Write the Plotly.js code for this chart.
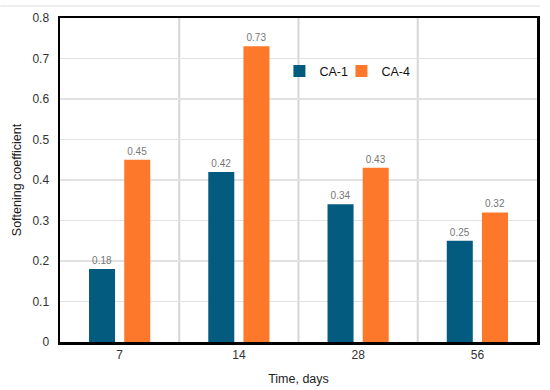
<!DOCTYPE html>
<html><head><meta charset="utf-8">
<script src="https://cdn.plot.ly/plotly-3.0.1.min.js"></script>
<style>html,body{margin:0;padding:0;background:#fff}#chart{width:550px;height:390px}</style>
</head><body><div id="chart"></div>
<script>
const categories = ["7", "14", "28", "56"];
const ca1 = [0.18, 0.42, 0.34, 0.25];
const ca4 = [0.45, 0.73, 0.43, 0.32];
const seriesNames = ["CA-1", "CA-4"];
const colors = ["#045b80", "#fd782a"];

const fmt = v => v.toFixed(2);
const traces = [ca1, ca4].map((vals, i) => ({
  type: "bar", x: categories, y: vals, name: seriesNames[i],
  legend: i === 0 ? "legend" : "legend2",
  marker: {color: colors[i]},
  text: vals.map(fmt), textposition: "outside", cliponaxis: false,
  textfont: {size: 10, color: "#777", family: "Liberation Sans, Arial"},
  hoverinfo: "none"
}));

const shapes = [];
for (let k = 0; k < categories.length - 1; k++) {
  shapes.push({type: "line", xref: "x", yref: "paper", x0: k + 0.5, x1: k + 0.5, y0: 0, y1: 1,
    line: {color: "#d6d6d6", width: 2}, layer: "below"});
}
shapes.push({type: "line", xref: "paper", yref: "paper", x0: -0.125, x1: 1.006, y0: 1.037, y1: 1.037,
  line: {color: "#eeeeee", width: 2}});

const legendBase = {orientation: "v", y: 0.835, xanchor: "left", yanchor: "middle",
  font: {size: 12.5, color: "#111"}, bgcolor: "rgba(0,0,0,0)", itemwidth: 30};

const layout = {
  width: 550, height: 390,
  margin: {l: 60, r: 13, t: 18, b: 48},
  paper_bgcolor: "#fff", plot_bgcolor: "#fff",
  font: {family: "Liberation Sans, Arial", color: "#222", size: 12},
  barmode: "group", bargap: 0.41, bargroupgap: 0.26,
  showlegend: true,
  legend: Object.assign({}, legendBase, {x: 0.46}),
  legend2: Object.assign({}, legendBase, {x: 0.59}),
  xaxis: {type: "category", showgrid: false, showline: true, linecolor: "#000", linewidth: 2.5, mirror: true,
    ticks: "", tickfont: {size: 12, color: "#333"},
    title: {text: "Time, days", font: {size: 12.5, color: "#222"}, standoff: 14}},
  yaxis: {range: [0, 0.8], dtick: 0.1, tickformat: "~g", showgrid: true, gridcolor: "#e2e2e2", gridwidth: 1.5,
    showline: true, linecolor: "#000", linewidth: 2.5, mirror: true, ticks: "", zeroline: false,
    tickfont: {size: 12, color: "#333"}, ticklabelstandoff: 6,
    title: {text: "Softening coefficient", font: {size: 12.5, color: "#222"}, standoff: 8}},
  shapes: shapes
};
Plotly.newPlot("chart", traces, layout, {displayModeBar: false, staticPlot: true});
</script></body></html>
